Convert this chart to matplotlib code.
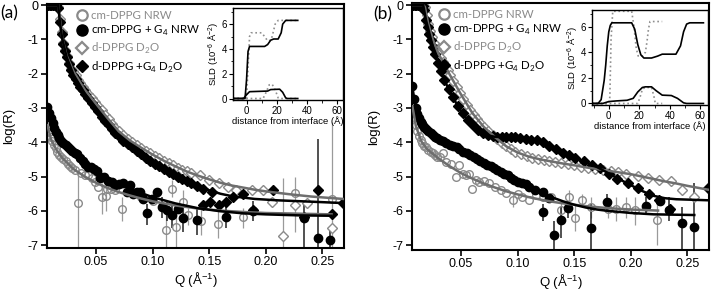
import matplotlib
matplotlib.use('Agg')
import matplotlib.pyplot as plt
from matplotlib.lines import Line2D
from matplotlib.ticker import AutoMinorLocator

plt.rcParams['font.family'] = ['Liberation Sans', 'DejaVu Sans']
plt.rcParams['axes.unicode_minus'] = False
plt.rcParams['mathtext.fontset'] = 'custom'
plt.rcParams['mathtext.rm'] = 'Liberation Sans'

# ---------------- panel (a) data ----------------
a_gc_q = [0.0068, 0.0083, 0.0098, 0.0113, 0.0128, 0.0143, 0.0158, 0.0173, 0.019, 0.021, 0.023, 0.025, 0.027, 0.029,
          0.0315, 0.0344, 0.037, 0.040, 0.0432, 0.046, 0.0491, 0.052, 0.055, 0.0588, 0.0594, 0.063, 0.067, 0.0727,
          0.080, 0.085, 0.090, 0.100, 0.112, 0.1167, 0.121, 0.127, 0.131, 0.143, 0.158, 0.180, 0.2255, 0.258]
a_gc_r = [-3.45, -3.7, -3.85, -3.97, -4.08, -4.18, -4.28, -4.36, -4.44, -4.5, -4.55, -4.62, -4.68, -4.74,
          -4.81, -5.78, -4.9, -4.95, -4.96, -5.05, -5.15, -5.3, -5.6, -5.55, -5.35, -5.35, -5.4, -5.93,
          -5.3, -5.45, -5.6, -5.7, -6.56, -5.35, -6.46, -5.73, -6.12, -6.3, -6.38, -6.17, -5.49, -5.66]
a_gc_eq = [0.0344, 0.055, 0.0588, 0.0727, 0.112, 0.1167, 0.121, 0.127, 0.131, 0.143, 0.158, 0.180, 0.215, 0.2255, 0.258]
a_gc_elo = [-7.1, -6.1, -6.0, -6.3, -7.1, -5.6, -7.1, -6.1, -6.4, -6.7, -6.8, -6.5, -7.1, -6.6, -7.1]
a_gc_ehi = [-4.9, -5.2, -5.2, -5.6, -5.9, -5.1, -6.0, -5.4, -5.9, -5.9, -6.0, -5.9, -5.05, -5.0, -3.4]

a_bc_q = [0.0068, 0.0085, 0.0100, 0.0115, 0.0130, 0.0145, 0.0160, 0.0175, 0.0190, 0.0210, 0.0230, 0.0250, 0.0270,
          0.0290, 0.0310, 0.0330, 0.0355, 0.0380, 0.0405, 0.0430, 0.0455, 0.0480, 0.0505, 0.0535, 0.0570, 0.0605,
          0.0638, 0.0670, 0.0705, 0.0735, 0.0770, 0.0800, 0.0830, 0.0859, 0.0890, 0.0917, 0.0947, 0.0990, 0.1035,
          0.1080, 0.1124, 0.1168, 0.1220, 0.1270, 0.1390, 0.1650, 0.1890, 0.2340, 0.2460, 0.2564]
a_bc_r = [-2.97, -3.15, -3.3, -3.45, -3.58, -3.7, -3.8, -3.88, -3.95, -4.02, -4.08, -4.13, -4.2,
          -4.25, -4.3, -4.35, -4.45, -4.55, -4.62, -4.71, -4.72, -4.78, -4.85, -5.05, -5.0, -5.12,
          -5.15, -5.25, -5.22, -5.2, -5.44, -5.25, -5.5, -5.44, -5.45, -5.64, -6.05, -5.64, -5.44,
          -5.88, -5.98, -6.12, -5.95, -6.22, -6.27, -6.17, -6.0, -6.2, -6.8, -6.85]
a_bc_eq = [0.0947, 0.1080, 0.1124, 0.1168, 0.1270, 0.1390, 0.1650, 0.1890, 0.2340, 0.2460, 0.2564]
a_bc_elo = [-6.4, -6.2, -6.3, -6.5, -6.6, -6.7, -6.5, -6.3, -7.1, -7.1, -7.1]
a_bc_ehi = [-5.8, -5.6, -5.7, -5.8, -5.9, -5.95, -5.85, -5.7, -5.8, -3.9, -6.5]

a_gd_q = [0.0075, 0.009, 0.0105, 0.012, 0.0135, 0.015, 0.0165, 0.018, 0.0195, 0.021, 0.0225, 0.024, 0.026, 0.028,
          0.030, 0.032, 0.034, 0.036, 0.038, 0.040, 0.043, 0.046, 0.049, 0.052, 0.055, 0.058, 0.061, 0.064, 0.067,
          0.070, 0.074, 0.078, 0.082, 0.086, 0.090, 0.094, 0.098, 0.102, 0.106, 0.110, 0.114, 0.118, 0.122, 0.126,
          0.130, 0.134, 0.1417, 0.150, 0.159, 0.1667, 0.174, 0.188, 0.1975, 0.205, 0.215, 0.226, 0.236, 0.258]
a_gd_r = [0, 0, 0, 0, 0, 0, -0.05, -0.4, -0.8, -1.1, -1.3, -1.48, -1.68, -1.85,
          -1.93, -2.05, -2.17, -2.28, -2.38, -2.47, -2.6, -2.72, -2.84, -2.95, -3.06, -3.2, -3.33, -3.46, -3.58,
          -3.68, -3.8, -3.9, -4.0, -4.08, -4.16, -4.24, -4.32, -4.4, -4.47, -4.54, -4.6, -4.67, -4.74, -4.8,
          -4.85, -4.88, -4.96, -5.1, -5.2, -5.3, -5.39, -5.39, -5.39, -5.73, -6.73, -5.83, -5.76, -6.51]

a_bd_q = [0.0075, 0.009, 0.0105, 0.012, 0.0135, 0.015, 0.0165, 0.018, 0.0195, 0.021, 0.0225, 0.024, 0.026, 0.028,
          0.030, 0.032, 0.034, 0.036, 0.038, 0.040, 0.043, 0.046, 0.049, 0.052, 0.055, 0.058, 0.061, 0.064, 0.067,
          0.070, 0.074, 0.078, 0.082, 0.086, 0.090, 0.094, 0.098, 0.102, 0.106, 0.110, 0.114, 0.118, 0.122, 0.126,
          0.130, 0.134, 0.139, 0.1446, 0.1447, 0.151, 0.152, 0.159, 0.165, 0.171, 0.180, 0.1887, 0.2064, 0.234,
          0.246, 0.258, 0.268]
a_bd_r = [0, 0, 0, 0, 0, 0, -0.1, -0.5, -0.85, -1.15, -1.35, -1.52, -1.72, -1.9,
          -2.03, -2.15, -2.27, -2.38, -2.49, -2.58, -2.72, -2.85, -2.98, -3.1, -3.25, -3.38, -3.5, -3.62, -3.73,
          -3.83, -3.95, -4.05, -4.15, -4.25, -4.35, -4.45, -4.54, -4.62, -4.7, -4.78, -4.86, -4.93, -5.0, -5.07,
          -5.12, -5.18, -5.28, -5.35, -5.83, -5.73, -5.44, -5.83, -5.73, -5.58, -5.5, -5.98, -5.39, -6.17,
          -5.39, -6.1, -5.78]

a_gd_fit_q = [0.007, 0.0165, 0.018, 0.020, 0.024, 0.030, 0.040, 0.050, 0.060, 0.070, 0.080, 0.090, 0.100,
              0.110, 0.120, 0.130, 0.140, 0.150, 0.160, 0.170, 0.180, 0.190, 0.200, 0.220, 0.240, 0.268]
a_gd_fit_r = [0, 0, -0.4, -0.95, -1.48, -1.93, -2.47, -2.88, -3.29, -3.68, -3.95, -4.16, -4.36,
              -4.54, -4.7, -4.85, -4.97, -5.08, -5.18, -5.26, -5.32, -5.38, -5.43, -5.51, -5.58, -5.65]
a_bd_fit_q = [0.007, 0.0165, 0.018, 0.020, 0.024, 0.030, 0.040, 0.050, 0.060, 0.070, 0.080, 0.090,
              0.100, 0.110, 0.120, 0.130, 0.140, 0.150, 0.160, 0.170, 0.190, 0.210, 0.240, 0.268]
a_bd_fit_r = [0, 0, -0.5, -0.97, -1.52, -2.03, -2.58, -3.02, -3.46, -3.83, -4.1, -4.35,
              -4.58, -4.78, -4.97, -5.12, -5.27, -5.4, -5.5, -5.57, -5.65, -5.69, -5.73, -5.77]
a_gc_fit_q = [0.007, 0.010, 0.015, 0.020, 0.030, 0.040, 0.050, 0.060, 0.070, 0.080, 0.090, 0.100,
              0.120, 0.140, 0.160, 0.180, 0.200, 0.230, 0.258]
a_gc_fit_r = [-3.5, -3.9, -4.22, -4.45, -4.78, -5.0, -5.18, -5.33, -5.45, -5.55, -5.64, -5.72,
              -5.84, -5.93, -5.99, -6.03, -6.06, -6.08, -6.1]
a_bc_fit_q = [0.007, 0.010, 0.015, 0.020, 0.030, 0.040, 0.050, 0.060, 0.070, 0.080, 0.090, 0.100,
              0.120, 0.140, 0.160, 0.180, 0.200, 0.230, 0.258]
a_bc_fit_r = [-2.95, -3.35, -3.75, -4.0, -4.3, -4.58, -4.82, -5.02, -5.2, -5.35, -5.48, -5.6,
              -5.78, -5.92, -6.01, -6.07, -6.1, -6.13, -6.14]

# ---------------- panel (b) data ----------------
b_gc_q = [0.0068, 0.0083, 0.0098, 0.0113, 0.0128, 0.0143, 0.0158, 0.0173, 0.019, 0.021, 0.023, 0.025, 0.027,
          0.029, 0.031, 0.034, 0.037, 0.041, 0.0456, 0.0485, 0.0514, 0.054, 0.057, 0.060, 0.063, 0.066, 0.070,
          0.075, 0.080, 0.085, 0.090, 0.0956, 0.100, 0.104, 0.110, 0.116, 0.122, 0.129, 0.138, 0.1455, 0.151,
          0.157, 0.165, 0.180, 0.187, 0.1955, 0.204, 0.2234]
b_gc_r = [-2.9, -3.25, -3.5, -3.68, -3.82, -3.94, -4.03, -4.1, -4.15, -4.22, -4.28, -4.32, -4.38,
          -4.42, -4.42, -4.32, -4.57, -4.62, -5.0, -4.66, -4.91, -4.95, -4.91, -5.35, -5.1, -5.15, -5.12,
          -5.2, -5.3, -5.4, -5.49, -5.69, -5.5, -5.59, -5.69, -5.55, -5.59, -5.59, -5.98, -5.59, -6.2,
          -5.69, -5.88, -5.93, -5.93, -5.88, -5.98, -6.27]
b_gc_eq = [0.0956, 0.138, 0.1455, 0.151, 0.157, 0.165, 0.180, 0.187, 0.1955, 0.204, 0.2234]
b_gc_elo = [-5.9, -6.3, -5.8, -6.6, -5.9, -6.2, -6.2, -6.3, -6.2, -6.4, -7.0]
b_gc_ehi = [-5.5, -5.7, -5.4, -5.8, -5.5, -5.6, -5.7, -5.6, -5.6, -5.6, -5.6]

b_bc_q = [0.0068, 0.0083, 0.0098, 0.0113, 0.0128, 0.0143, 0.0158, 0.0175, 0.019, 0.021, 0.023, 0.025, 0.027,
          0.029, 0.031, 0.034, 0.037, 0.040, 0.043, 0.046, 0.0485, 0.052, 0.055, 0.058, 0.061, 0.064, 0.067,
          0.070, 0.073, 0.076, 0.079, 0.082, 0.085, 0.088, 0.091, 0.094, 0.097, 0.100, 0.104, 0.107, 0.110,
          0.115, 0.122, 0.128, 0.122, 0.132, 0.138, 0.144, 0.1646, 0.179, 0.213, 0.226, 0.234, 0.245, 0.256]
b_bc_r = [-2.35, -2.75, -3.0, -3.18, -3.3, -3.4, -3.48, -3.55, -3.62, -3.68, -3.74, -3.8, -3.85,
          -3.88, -3.92, -3.96, -4.02, -4.07, -4.12, -4.15, -4.2, -4.27, -4.31, -4.36, -4.42, -4.48, -4.54,
          -4.6, -4.66, -4.7, -4.75, -4.8, -4.86, -4.92, -4.96, -5.05, -5.1, -5.15, -5.2, -5.22, -5.3,
          -5.38, -5.44, -5.62, -6.03, -6.7, -6.27, -5.91, -6.51, -5.73, -5.85, -5.7, -5.98, -6.34, -6.46]
b_bc_eq = [0.122, 0.132, 0.138, 0.144, 0.1646, 0.179, 0.213, 0.234, 0.245, 0.256]
b_bc_elo = [-6.3, -7.1, -6.8, -6.2, -7.1, -6.0, -6.1, -6.3, -7.1, -7.1]
b_bc_ehi = [-5.8, -6.3, -5.9, -5.7, -5.8, -5.5, -5.6, -5.6, -5.9, -5.2]

b_gd_q = [0.0075, 0.009, 0.0105, 0.012, 0.0135, 0.015, 0.0165, 0.018, 0.0195, 0.021, 0.0225, 0.024, 0.026, 0.028,
          0.030, 0.032, 0.034, 0.036, 0.038, 0.040, 0.043, 0.046, 0.049, 0.052, 0.055, 0.058, 0.061, 0.064, 0.067,
          0.070, 0.074, 0.078, 0.082, 0.086, 0.090, 0.094, 0.098, 0.103, 0.108, 0.113, 0.118, 0.123, 0.128, 0.133,
          0.138, 0.144, 0.150, 0.156, 0.162, 0.168, 0.175, 0.182, 0.189, 0.196, 0.206, 0.215, 0.225, 0.235, 0.245,
          0.256]
b_gd_r = [0, 0, 0, 0, 0, 0, 0, -0.05, -0.3, -0.55, -0.75, -0.92, -1.1, -1.27,
          -1.42, -1.55, -1.66, -1.77, -1.9, -2.03, -2.2, -2.38, -2.55, -2.73, -2.9, -3.05, -3.2, -3.33, -3.45,
          -3.55, -3.67, -3.78, -3.9, -4.02, -4.12, -4.2, -4.27, -4.34, -4.4, -4.45, -4.49, -4.52, -4.55, -4.58,
          -4.61, -4.64, -4.67, -4.71, -4.74, -4.77, -4.81, -4.84, -4.87, -4.91, -4.98, -5.05, -5.1, -5.13, -5.39,
          -5.6]

b_bd_q = [0.0075, 0.009, 0.0105, 0.012, 0.0135, 0.015, 0.0165, 0.0176, 0.019, 0.0205, 0.022, 0.0235, 0.025,
          0.027, 0.0294, 0.032, 0.0353, 0.039, 0.0426, 0.047, 0.0514, 0.056, 0.0602, 0.065, 0.069, 0.074, 0.078,
          0.082, 0.086, 0.090, 0.094, 0.098, 0.102, 0.107, 0.112, 0.117, 0.122, 0.128, 0.134, 0.140, 0.1455,
          0.151, 0.159, 0.166, 0.173, 0.181, 0.188, 0.197, 0.206, 0.216, 0.225, 0.2343, 0.268]
b_bd_r = [0, 0, 0, 0, 0, 0, -0.02, -0.15, -0.44, -0.65, -0.83, -1.02, -1.21,
          -1.42, -1.7, -1.92, -2.19, -2.45, -2.67, -2.93, -3.16, -3.35, -3.5, -3.64, -3.74, -3.8, -3.83,
          -3.84, -3.85, -3.85, -3.86, -3.86, -3.87, -3.9, -3.92, -3.94, -4.0, -4.1, -4.2, -4.3, -4.37,
          -4.47, -4.54, -4.65, -4.76, -4.93, -5.08, -5.18, -5.34, -5.52, -5.69, -5.93, -5.34]

b_gd_fit_q = [0.007, 0.0165, 0.018, 0.021, 0.025, 0.030, 0.035, 0.040, 0.050, 0.060, 0.070, 0.080, 0.090, 0.100,
              0.110, 0.120, 0.130, 0.140, 0.150, 0.160, 0.170, 0.180, 0.190, 0.200, 0.210, 0.220, 0.230, 0.240,
              0.250, 0.268]
b_gd_fit_r = [0, 0, -0.05, -0.55, -1.0, -1.42, -1.72, -2.03, -2.61, -3.15, -3.55, -3.85, -4.12, -4.3,
              -4.42, -4.5, -4.56, -4.62, -4.67, -4.73, -4.78, -4.83, -4.88, -4.93, -5.0, -5.07, -5.14, -5.2,
              -5.27, -5.38]
b_bd_fit_q = [0.007, 0.0165, 0.019, 0.022, 0.025, 0.030, 0.035, 0.040, 0.045, 0.050, 0.055, 0.060, 0.065,
              0.070, 0.075, 0.080, 0.090, 0.100, 0.110, 0.120, 0.130, 0.140, 0.150, 0.160, 0.170, 0.180, 0.190,
              0.200, 0.210, 0.220, 0.230, 0.240, 0.268]
b_bd_fit_r = [0, 0, -0.44, -0.83, -1.21, -1.75, -2.17, -2.52, -2.82, -3.1, -3.32, -3.5, -3.64,
              -3.75, -3.81, -3.84, -3.85, -3.87, -3.91, -3.98, -4.12, -4.3, -4.45, -4.57, -4.72, -4.9, -5.08,
              -5.25, -5.42, -5.56, -5.63, -5.66, -5.69]
b_gc_fit_q = [0.007, 0.010, 0.015, 0.020, 0.030, 0.040, 0.050, 0.060, 0.070, 0.080, 0.090, 0.100, 0.110,
              0.120, 0.130, 0.140, 0.150, 0.160, 0.180, 0.200, 0.224]
b_gc_fit_r = [-2.95, -3.52, -3.98, -4.2, -4.47, -4.7, -4.9, -5.06, -5.2, -5.32, -5.43, -5.52, -5.6,
              -5.67, -5.73, -5.78, -5.82, -5.86, -5.92, -5.96, -5.99]
b_bc_fit_q = [0.007, 0.010, 0.015, 0.020, 0.030, 0.040, 0.050, 0.060, 0.070, 0.080, 0.090, 0.100, 0.110,
              0.120, 0.130, 0.140, 0.150, 0.160, 0.170, 0.180, 0.200, 0.220, 0.256]
b_bc_fit_r = [-2.4, -3.02, -3.42, -3.65, -3.9, -4.07, -4.22, -4.4, -4.6, -4.77, -4.95, -5.13, -5.3,
              -5.46, -5.6, -5.72, -5.82, -5.9, -5.96, -6.0, -6.06, -6.1, -6.12]

# ---------------- SLD profiles (insets) ----------------
ia_bk_up_z = [-9, -1, 0, 1, 2, 12, 14, 16, 18, 21, 23, 24, 26, 34]
ia_bk_up_s = [0, 0, 1.5, 3.8, 4.2, 4.2, 4.35, 4.7, 4.8, 4.8, 5.3, 6.0, 6.3, 6.3]
ia_gy_up_z = [-9, 0, 1, 2, 3, 10, 12, 14, 16, 17, 18, 19, 21, 34]
ia_gy_up_s = [0, 0, 2.5, 5.0, 5.3, 5.3, 5.0, 4.65, 4.7, 5.0, 5.5, 6.0, 6.3, 6.3]
ia_bk_lo_z = [-9, -2, 0, 2, 14, 16, 22, 24, 26, 27, 34]
ia_bk_lo_s = [0, 0, 0.3, 0.55, 0.6, 0.72, 0.75, 0.5, 0.05, 0, 0]
ia_gy_lo_z = [-9, 11, 13, 15, 17, 19, 21, 22, 34]
ia_gy_lo_s = [0, 0, 0.5, 1.1, 1.15, 0.7, 0.05, 0, 0]

ib_bk_up_z = [-11, -7, -5, -3, -2, -1, 0, 1, 2, 15, 17, 19, 21, 23, 28, 32, 35, 44, 47, 49, 51, 53, 62]
ib_bk_up_s = [0, 0, 0.3, 1.8, 3.0, 4.5, 5.6, 6.1, 6.3, 6.3, 5.8, 4.6, 3.8, 3.55, 3.55, 3.7, 3.85, 3.85,
              4.5, 5.6, 6.2, 6.3, 6.3]
ib_gy_up_z = [-11, 0, 0.7, 1.5, 2.6, 15, 16.5, 18, 19.3, 22, 24, 25, 26, 27, 35]
ib_gy_up_s = [0, 0, 0.5, 5.0, 7.2, 7.2, 6.0, 4.3, 3.7, 3.7, 4.0, 4.8, 5.8, 6.4, 6.4]
ib_bk_lo_z = [-11, -4, 0, 5, 12, 16, 19, 22, 24, 28, 31, 35, 41, 45, 49, 51, 62]
ib_bk_lo_s = [0, 0, 0.15, 0.2, 0.25, 0.4, 0.9, 1.25, 1.3, 1.3, 1.0, 0.65, 0.62, 0.4, 0.05, 0, 0]
ib_gy_lo_z = [-11, 19, 20.5, 22, 23.7, 28, 29.5, 30.5, 35]
ib_gy_lo_s = [0, 0, 0.5, 1.1, 1.25, 1.25, 0.6, 0, 0]

legend_labels = ['cm-DPPG NRW', r'cm-DPPG + G$_\mathregular{4}$ NRW',
                 r'd-DPPG D$_\mathregular{2}$O', r'd-DPPG +G$_\mathregular{4}$ D$_\mathregular{2}$O']

GRAY = '#8a8a8a'
GRAYLINE = '#6e6e6e'
LEGFONT = ['Lato', 'DejaVu Sans']

fig = plt.figure(figsize=(7.14, 2.9), dpi=100)


def draw_panel(ax, gc, bc, gd, bd, fits, ylim, leg_x):
    gc_q, gc_r, gc_eq, gc_elo, gc_ehi = gc
    bc_q, bc_r, bc_eq, bc_elo, bc_ehi = bc
    ax.vlines(gc_eq, gc_elo, gc_ehi, color='#9a9a9a', lw=0.9, zorder=1)
    ax.vlines(bc_eq, bc_elo, bc_ehi, color='#222222', lw=1.1, zorder=1)
    ax.plot(gc_q, gc_r, 'o', ms=5.5, mfc='none', mec=GRAY, mew=1.0, zorder=2)
    ax.plot(bc_q, bc_r, 'o', ms=6, mfc='black', mec='black', zorder=2)
    ax.plot(gd[0], gd[1], 'D', ms=5, mfc='white', mec=GRAY, mew=1.0, zorder=2)
    ax.plot(bd[0], bd[1], 'D', ms=5.2, mfc='black', mec='black', zorder=2)
    for (fq, fr, col) in fits:
        ax.plot(fq, fr, '-', color=col, lw=1.8, zorder=3)
    ax.set_xlim(0.0066, 0.269)
    ax.set_ylim(*ylim)
    ax.set_xticks([0.05, 0.10, 0.15, 0.20, 0.25])
    ax.set_xticklabels(['0.05', '0.10', '0.15', '0.20', '0.25'])
    ax.set_yticks([0, -1, -2, -3, -4, -5, -6, -7])
    ax.tick_params(direction='out', length=4, width=1.2, labelsize=9, pad=2)
    for s in ax.spines.values():
        s.set_linewidth(1.5)
    ax.set_xlabel(r'Q (Å$^{\mathregular{-1}}$)', fontsize=9.5, labelpad=1.5)
    ax.set_ylabel('log(R)', fontsize=9.5, labelpad=9)
    handles = [Line2D([], [], ls='none', marker='o', ms=7.5, mfc='none', mec=GRAY, mew=1.6),
               Line2D([], [], ls='none', marker='o', ms=8, mfc='black', mec='black'),
               Line2D([], [], ls='none', marker='D', ms=6.5, mfc='none', mec=GRAY, mew=1.6),
               Line2D([], [], ls='none', marker='D', ms=6.5, mfc='black', mec='black')]
    leg = ax.legend(handles, legend_labels, loc='upper left', bbox_to_anchor=(leg_x, 0.982),
                    frameon=False, handlelength=1.0, handletextpad=0.3, labelspacing=0.28,
                    borderpad=0.1, borderaxespad=0, prop={'family': LEGFONT, 'size': 8.3})
    for t, c in zip(leg.get_texts(), [GRAY, 'black', GRAY, 'black']):
        t.set_color(c)


def draw_inset(ax, bk_up, gy_up, bk_lo, gy_lo, xlim):
    ax.plot(gy_up[0], gy_up[1], ':', color='#8f8f8f', lw=1.2)
    ax.plot(gy_lo[0], gy_lo[1], ':', color='#8f8f8f', lw=1.2)
    ax.plot(bk_up[0], bk_up[1], '-', color='black', lw=1.2)
    ax.plot(bk_lo[0], bk_lo[1], '-', color='black', lw=1.2)
    ax.set_xlim(*xlim)
    ax.set_ylim(-0.12, 7.3)
    ax.set_xticks([0, 20, 40, 60])
    ax.set_yticks([0, 2, 4, 6])
    ax.xaxis.set_minor_locator(AutoMinorLocator(2))
    ax.yaxis.set_minor_locator(AutoMinorLocator(2))
    ax.tick_params(which='major', direction='out', length=3, width=0.8, labelsize=7, pad=1)
    ax.tick_params(which='minor', direction='out', length=1.8, width=0.6)
    for s in ax.spines.values():
        s.set_linewidth(1.0)
    ax.set_xlabel('distance from interface (Å)', fontsize=6.8, labelpad=0.5)
    ax.set_ylabel(r'SLD (10$^{\mathregular{-6}}$ Å$^{\mathregular{-2}}$)', fontsize=6.8, labelpad=0.5)


ax_a = fig.add_axes([0.0658, 0.1448, 0.416, 0.8414])
draw_panel(ax_a,
           (a_gc_q, a_gc_r, a_gc_eq, a_gc_elo, a_gc_ehi),
           (a_bc_q, a_bc_r, a_bc_eq, a_bc_elo, a_bc_ehi),
           (a_gd_q, a_gd_r), (a_bd_q, a_bd_r),
           [(a_gc_fit_q, a_gc_fit_r, GRAYLINE), (a_bc_fit_q, a_bc_fit_r, 'black'),
            (a_gd_fit_q, a_gd_fit_r, GRAYLINE), (a_bd_fit_q, a_bd_fit_r, 'black')],
           (-7.08, 0.03), 0.095)

ax_b = fig.add_axes([0.577, 0.1379, 0.416, 0.8517])
draw_panel(ax_b,
           (b_gc_q, b_gc_r, b_gc_eq, b_gc_elo, b_gc_ehi),
           (b_bc_q, b_bc_r, b_bc_eq, b_bc_elo, b_bc_ehi),
           (b_gd_q, b_gd_r), (b_bd_q, b_bd_r),
           [(b_gc_fit_q, b_gc_fit_r, GRAYLINE), (b_bc_fit_q, b_bc_fit_r, 'black'),
            (b_gd_fit_q, b_gd_fit_r, GRAYLINE), (b_bd_fit_q, b_bd_fit_r, 'black')],
           (-7.14, 0.06), 0.085)

in_a = fig.add_axes([0.3263, 0.6552, 0.154, 0.3172])
draw_inset(in_a, (ia_bk_up_z, ia_bk_up_s), (ia_gy_up_z, ia_gy_up_s),
           (ia_bk_lo_z, ia_bk_lo_s), (ia_gy_lo_z, ia_gy_lo_s), (-9, 64))

in_b = fig.add_axes([0.8291, 0.6379, 0.1625, 0.3276])
draw_inset(in_b, (ib_bk_up_z, ib_bk_up_s), (ib_gy_up_z, ib_gy_up_s),
           (ib_bk_lo_z, ib_bk_lo_s), (ib_gy_lo_z, ib_gy_lo_s), (-11, 65))

fig.text(0.0, 1 - 13 / 290, '(a)', fontsize=12.5, family=LEGFONT, va='center', ha='left')
fig.text(373 / 714, 1 - 14 / 290, '(b)', fontsize=12.5, family=LEGFONT, va='center', ha='left')

fig.savefig('out.png', dpi=100)
